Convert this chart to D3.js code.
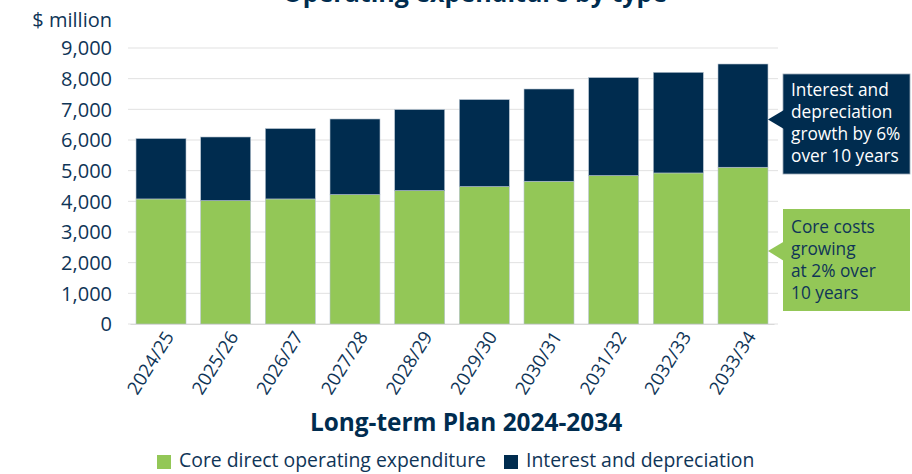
<!DOCTYPE html>
<html><head><meta charset="utf-8">
<script src="https://cdn.jsdelivr.net/npm/d3@7"></script>
<style>
body{margin:0;background:#fff;}
svg{display:block;font-family:"Open Sans",sans-serif;}
</style></head>
<body>
<svg id="chart" width="912" height="474"></svg>
<script>
const categories = ["2024/25","2025/26","2026/27","2027/28","2028/29","2029/30","2030/31","2031/32","2032/33","2033/34"];
const coreValues = [4078, 4025, 4078, 4221, 4351, 4482, 4654, 4840, 4925, 5111];
const interestValues = [1968, 2073, 2294, 2464, 2640, 2835, 3009, 3195, 3282, 3367];
const yTicks = [0,1000,2000,3000,4000,5000,6000,7000,8000,9000];
const seriesNames = ["Core direct operating expenditure", "Interest and depreciation"];
const annotationInterest = ["Interest and","depreciation","growth by 6%","over 10 years"];
const annotationCore = ["Core costs","growing","at 2% over","10 years"];

const NAVY = "#002c4f", GREEN = "#93c757", TEXT = "#0f3557";
const svg = d3.select("#chart");

const x = d3.scaleBand().domain(categories).range([130, 774]).paddingInner(0.227).paddingOuter(0.093);
const y = d3.scaleLinear().domain([0, 9000]).range([324, 48]);

// gridlines
svg.append("g").selectAll("line").data(yTicks).join("line")
  .attr("x1", 128).attr("x2", 778)
  .attr("y1", d => y(d)).attr("y2", d => y(d))
  .attr("stroke", "#e1e1e1").attr("stroke-width", 1);

// y axis labels
const yAxis = d3.axisLeft(y).tickValues(yTicks).tickFormat(d3.format(",")).tickSize(0).tickPadding(0);
const yg = svg.append("g").attr("transform", "translate(112,0)").call(yAxis);
yg.select(".domain").remove();
yg.selectAll("text").attr("fill", TEXT).attr("font-size", 20).attr("font-family", "Open Sans").attr("dy", "0.34em");

svg.append("text").attr("x", 112).attr("y", 27).attr("text-anchor", "end")
  .attr("fill", TEXT).attr("font-size", 20).text("$ million");

// title (cut off at top, as in the reference)
svg.append("text").attr("x", 475).attr("y", 2).attr("text-anchor", "middle")
  .attr("fill", NAVY).attr("font-size", 25).attr("font-weight", 700)
  .text("Operating expenditure by type");

// stacked bars
const rows = categories.map((c, i) => ({cat: c, core: coreValues[i], interest: interestValues[i]}));
const stack = d3.stack().keys(["core", "interest"])(rows);
const colors = [GREEN, NAVY];
svg.append("g").selectAll("g").data(stack).join("g")
  .attr("fill", (d, i) => colors[i])
  .selectAll("rect").data(d => d).join("rect")
  .attr("x", d => x(d.data.cat))
  .attr("width", x.bandwidth())
  .attr("y", d => y(d[1]))
  .attr("height", d => y(d[0]) - y(d[1]))
  .attr("stroke", "#b5c2cf").attr("stroke-width", 0.6);

// x axis
const xAxis = d3.axisBottom(x).tickSize(0).tickPadding(0);
const xg = svg.append("g").attr("transform", "translate(0,324)").call(xAxis);
xg.select(".domain").attr("stroke", "#d9d9d9");
xg.selectAll("text")
  .attr("fill", TEXT).attr("font-size", 18.5).attr("font-family", "Open Sans")
  .attr("text-anchor", "end")
  .attr("transform", "translate(8,9) rotate(-58)")
  .attr("dy", "0.35em").attr("y", 0);

// axis title
svg.append("text").attr("x", 466).attr("y", 431).attr("text-anchor", "middle")
  .attr("fill", NAVY).attr("font-size", 24.4).attr("font-weight", 700)
  .text("Long-term Plan 2024-2034");

// legend
const legend = svg.append("g");
const legX = [157, 504];
seriesNames.forEach((n, i) => {
  legend.append("rect").attr("x", legX[i]).attr("y", 455).attr("width", 14).attr("height", 14).attr("fill", colors[i]);
  legend.append("text").attr("x", legX[i] + 22).attr("y", 467).attr("fill", TEXT).attr("font-size", 19.4).text(n);
});

// annotations
const ann = svg.append("g");
ann.append("rect").attr("x", 783).attr("y", 74).attr("width", 127).attr("height", 100)
  .attr("fill", NAVY).attr("stroke", "#9aa8b6").attr("stroke-width", 0.8);
ann.append("path").attr("d", "M784,110 L768,119.5 L784,129 Z").attr("fill", NAVY);
annotationInterest.forEach((t, i) => ann.append("text").attr("x", 791).attr("y", 96 + i * 22)
  .attr("fill", "#fff").attr("font-size", 17.3).text(t));

ann.append("rect").attr("x", 783).attr("y", 209).attr("width", 127).attr("height", 102)
  .attr("fill", GREEN);
ann.append("path").attr("d", "M784,241.5 L768,251 L784,261 Z").attr("fill", GREEN);
annotationCore.forEach((t, i) => ann.append("text").attr("x", 791).attr("y", 233 + i * 22)
  .attr("fill", TEXT).attr("font-size", 17.3).text(t));
</script>
</body></html>
